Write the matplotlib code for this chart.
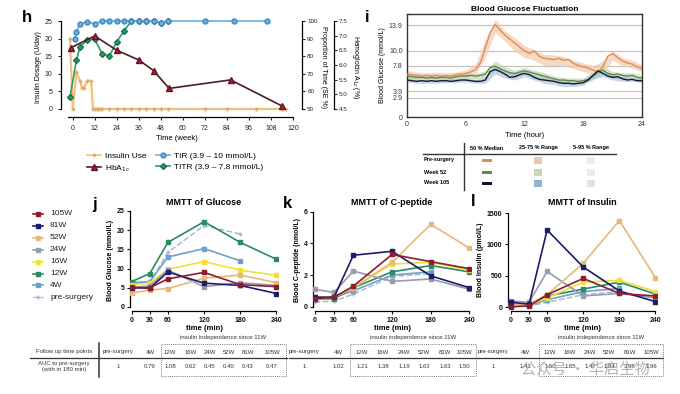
import matplotlib
matplotlib.use("Agg")
import matplotlib.pyplot as plt
import numpy as np
from matplotlib.lines import Line2D
from matplotlib.patches import Rectangle

plt.rcParams['font.family'] = ['Liberation Sans', 'DejaVu Sans']
plt.rcParams['font.size'] = 5
plt.rcParams['axes.linewidth'] = 0.9
plt.rcParams['xtick.major.width'] = 0.8
plt.rcParams['ytick.major.width'] = 0.8
plt.rcParams['xtick.major.size'] = 2.5
plt.rcParams['ytick.major.size'] = 2.5

nan = float('nan')

# ---- panel h data ----
ins_weeks = [-1.5, 0, 2, 4, 5, 6, 8, 10, 11, 12, 13, 14, 15, 16, 20, 24, 28, 32, 36, 40, 44, 48, 52, 72, 84, 100, 114, 116]
ins_dose = [20, 0, 10.5, 8, 6, 6, 8, 8, 0, 0, 0, 0, 0, 0, 0, 0, 0, 0, 0, 0, 0, 0, 0, 0, 0, 0, 0, 0]
tir_weeks = [1, 2, 4, 8, 12, 16, 20, 24, 28, 32, 36, 40, 44, 48, 52, 72, 88, 106]
tir_pct = [90, 94, 98.5, 99.6, 98.3, 100, 100, 100, 100, 100, 100, 100, 100, 98.8, 100, 100, 100, 100]
titr_weeks = [-1.5, 2, 4, 8, 12, 16, 20, 24, 28, 32, 36, 40, 44, 48, 52]
titr_pct = [56.6, 77.8, 85.4, 89.2, 89.7, 81.4, 80.2, 88.2, 94.5, 100, 100, 100, 100, 98.8, 100]
hba_weeks = [-1, 12, 24, 36, 44, 52.5, 86, 114]
hba_pct = [6.59, 6.99, 6.50, 6.17, 5.81, 5.20, 5.49, 4.60]

# ---- panel i data (CGM profiles) ----
hours = np.arange(0, 24.5, 0.5)
pre_med = [6.5, 6.4, 6.3, 6.2, 6.3, 6.2, 6.3, 6.2, 6.3, 6.2, 6.4, 6.5, 6.6, 6.8, 7.2, 8.2, 10.5,
           12.8, 14.0, 13.2, 12.4, 11.8, 11.2, 10.6, 10.0, 9.6, 10.0, 9.2, 8.9, 8.8, 8.7, 8.9, 8.6,
           8.7, 8.1, 7.8, 7.6, 7.4, 7.1, 6.8, 7.6, 9.2, 9.6, 9.0, 8.5, 8.2, 8.0, 7.6, 7.3]
w52_med = [6.2, 6.1, 6.0, 6.0, 5.9, 6.0, 5.9, 6.0, 6.0, 5.9, 6.1, 6.2, 6.2, 6.3, 6.2, 6.3, 6.5,
           7.5, 7.7, 7.3, 7.0, 6.7, 6.6, 6.8, 7.0, 6.8, 6.6, 6.4, 6.2, 6.0, 5.8, 5.6, 5.6,
           5.5, 5.5, 5.4, 5.5, 5.7, 6.2, 6.8, 7.1, 6.6, 6.4, 6.5, 6.3, 6.2, 6.3, 6.0, 5.9]
w105_med = [5.6, 5.5, 5.4, 5.5, 5.4, 5.5, 5.4, 5.5, 5.5, 5.4, 5.5, 5.6, 5.6, 5.5, 5.4, 5.4, 5.6,
            6.9, 7.2, 6.9, 6.5, 6.0, 6.1, 6.4, 6.6, 6.4, 6.0, 5.7, 5.6, 5.5, 5.4, 5.2, 5.1,
            5.1, 5.0, 5.1, 5.2, 5.6, 6.3, 7.0, 6.6, 6.2, 6.0, 6.1, 5.8, 5.6, 5.7, 5.5, 5.5]
band_hours = np.arange(0, 25, 1)
pre_lo = [5.9, 5.8, 5.8, 5.8, 5.9, 6.0, 6.1, 6.5, 9.0, 12.8, 11.5, 10.0, 9.0, 8.6, 7.8, 7.8, 7.8,
          7.3, 6.9, 6.4, 6.6, 8.6, 7.8, 7.4, 6.8]
pre_hi = [7.0, 6.8, 6.7, 6.8, 6.7, 6.8, 7.1, 8.0, 11.8, 14.8, 13.0, 12.0, 10.8, 10.2, 9.5, 9.4, 9.2,
          8.6, 8.2, 7.7, 8.5, 10.0, 9.0, 8.6, 7.9]
w52_half = [0.4, 0.4, 0.35, 0.35, 0.35, 0.4, 0.4, 0.4, 0.5, 0.8, 0.6, 0.5, 0.5, 0.5, 0.5, 0.4, 0.4,
            0.4, 0.4, 0.6, 0.6, 0.5, 0.4, 0.4, 0.4]
w105_half = [0.3, 0.3, 0.3, 0.3, 0.3, 0.3, 0.3, 0.3, 0.5, 0.7, 0.6, 0.5, 0.5, 0.4, 0.5, 0.5, 0.5,
             0.4, 0.4, 0.5, 0.5, 0.4, 0.4, 0.3, 0.3]
bg_levels = [2.9, 3.9, 7.8, 10.0, 13.9]

# ---- panels j, k, l data (MMTT) ----
mmtt_min = [0, 30, 60, 120, 180, 240]
groups = ['pre-surgery', '4W', '12W', '16W', '24W', '52W', '81W', '105W']
glucose = {
    'pre-surgery': [6.0, 6.4, 14.2, 21.2, 19.0, nan],
    '4W': [6.3, 6.6, 13.0, 15.2, 12.0, nan],
    '12W': [6.6, 8.7, 16.8, 22.2, 16.8, 12.4],
    '16W': [5.8, 6.2, 9.8, 11.8, 9.6, 8.2],
    '24W': [5.0, 5.5, 9.6, 5.3, 6.3, 5.6],
    '52W': [3.6, 4.4, 4.8, 7.5, 8.3, 6.3],
    '81W': [5.0, 4.9, 9.1, 6.2, 5.6, 3.5],
    '105W': [5.1, 5.0, 7.3, 9.0, 5.8, 5.3],
}
cpeptide = {
    'pre-surgery': [0.3, 0.35, 0.8, 1.9, 2.1, nan],
    '4W': [0.6, 0.6, 1.0, 2.0, 2.2, nan],
    '12W': [0.5, 0.5, 1.2, 2.2, 2.6, 2.2],
    '16W': [0.6, 0.6, 1.2, 2.7, 2.8, 2.3],
    '24W': [1.1, 0.9, 2.25, 1.6, 1.75, 1.1],
    '52W': [0.6, 0.6, 1.2, 2.8, 5.2, 3.7],
    '81W': [0.6, 0.6, 3.25, 3.5, 1.95, 1.2],
    '105W': [0.5, 0.6, 1.3, 3.3, 2.85, 2.4],
}
insulin = {
    'pre-surgery': [10, 20, 80, 200, 250, nan],
    '4W': [20, 30, 120, 250, 300, nan],
    '12W': [30, 30, 180, 290, 400, 210],
    '16W': [30, 40, 150, 400, 430, 250],
    '24W': [100, 80, 570, 180, 220, 150],
    '52W': [50, 50, 200, 700, 1380, 470],
    '81W': [80, 50, 1230, 640, 260, 90],
    '105W': [10, 20, 200, 460, 220, 180],
}
group_colors = {
    'pre-surgery': '#a9b6da', '4W': '#6aa2cc', '12W': '#2a8a62', '16W': '#f0e03a',
    '24W': '#9a9aac', '52W': '#e8b878', '81W': '#1c1c6b', '105W': '#8b1e2e',
}

table_cols = ['pre-surgery', '4W', '12W', '16W', '24W', '52W', '81W', '105W']
auc_glucose = ['1', '0.79', '1.08', '0.62', '0.45', '0.40', '0.43', '0.47']
auc_cpep = ['1', '1.02', '1.21', '1.38', '1.19', '1.63', '1.63', '1.50']
auc_ins = ['1', '1.43', '1.50', '1.65', '1.47', '1.84', '3.98', '1.96']

W, H = 680, 394
fig = plt.figure(figsize=(6.8, 3.94), dpi=100)


def px_axes(l, t, r, b):
    return fig.add_axes([l / W, 1 - b / H, (r - l) / W, (b - t) / H])


def fx(x):
    return x / W


def fy(y):
    return 1 - y / H


def ftext(x, y, s, **kw):
    fig.text(fx(x), fy(y), s, **kw)


def fline(x0, x1, y0, y1, **kw):
    fig.add_artist(Line2D([fx(x0), fx(x1)], [fy(y0), fy(y1)], transform=fig.transFigure, **kw))


# ================= panel h =================
ax = px_axes(61, 17.5, 293, 117)
ax.set_xlim(-6.4, 120)
ax.set_ylim(-2.3, 26)
for s in ['top', 'right']:
    ax.spines[s].set_visible(False)
ax.spines['left'].set_bounds(0, 25)
ax.spines['bottom'].set_bounds(-2.5, 120)
ax.set_xticks(range(0, 121, 12))
ax.set_yticks(range(0, 26, 5))
ax.tick_params(labelsize=5, colors='#222222')
ax.set_xlabel('Time (week)', fontsize=5.5, labelpad=2)
ax.set_ylabel('Insulin Dosage (U/day)', fontsize=5, labelpad=2)
ax.plot(ins_weeks, ins_dose, color='#f3c27a', lw=1.6, marker='+', ms=3, mec='#e0a860', zorder=3)

ax2 = ax.twinx()
ax2.set_ylim(45.4, 102)
for s in ['top', 'left', 'bottom']:
    ax2.spines[s].set_visible(False)
ax2.spines['right'].set_position(('axes', 1.04))
ax2.spines['right'].set_bounds(50, 100)
ax2.set_yticks(range(50, 101, 10))
ax2.tick_params(labelsize=4.5, colors='#222222', pad=1)
ax2.plot(titr_weeks, titr_pct, color='#2e9a6a', lw=1.2, marker='D', ms=3, mfc='#2e9a6a', mec='#1d6e4a', zorder=4)
ax2.plot(tir_weeks, tir_pct, color='#6cb0e2', lw=1.2, marker='o', ms=3.5, mfc='#6cb0e2', mec='#3f86c0', zorder=5)

ax3 = ax.twinx()
ax3.set_ylim(4.224, 7.62)
for s in ['top', 'left', 'bottom']:
    ax3.spines[s].set_visible(False)
ax3.spines['right'].set_position(('axes', 1.175))
ax3.spines['right'].set_bounds(4.5, 7.5)
ax3.set_yticks(np.arange(4.5, 7.6, 0.5))
ax3.tick_params(labelsize=4.5, colors='#222222', pad=1)
ax3.plot(hba_weeks, hba_pct, color='#4a1c24', lw=1.2, marker='^', ms=4, mfc='#a8223c', mec='#6a1020', zorder=6)

ftext(323, 67, 'Proportion of Time (SE %)', rotation=270, ha='center', va='center', fontsize=5)
ftext(355, 67, 'Hemoglobin A$_{1c}$ (%)', rotation=270, ha='center', va='center', fontsize=5)

h_handles = [
    Line2D([], [], color='#f3c27a', lw=1.2, marker='+', ms=3, mec='#e0a860'),
    Line2D([], [], color='#4a1c24', lw=1.2, marker='^', ms=4, mfc='#a8223c', mec='#6a1020'),
    Line2D([], [], color='#6cb0e2', lw=1.2, marker='o', ms=3.5, mfc='#6cb0e2', mec='#3f86c0'),
    Line2D([], [], color='#2e9a6a', lw=1.2, marker='D', ms=3, mfc='#2e9a6a', mec='#1d6e4a'),
]
h_labels = ['Insulin Use', 'HbA$_{1c}$', 'TIR (3.9 – 10 mmol/L)', 'TITR (3.9 – 7.8 mmol/L)']
fig.legend(h_handles, h_labels, ncol=2, loc='center', bbox_to_anchor=(fx(175), fy(163)),
           frameon=False, fontsize=6, handlelength=1.6, columnspacing=1.2, labelspacing=0.35,
           handletextpad=0.5)

ftext(22, 17, 'h', fontsize=12, fontweight='bold', va='center')

# ================= panel i =================
axi = px_axes(407, 14, 642, 117)
axi.set_xlim(0, 24)
axi.set_ylim(0, 15.6)
for s in axi.spines.values():
    s.set_color('#333333')
    s.set_linewidth(1.0)
for lv in bg_levels:
    axi.axhline(lv, color='#c9c2ba', lw=0.9, zorder=1)
axi.set_xticks([0, 6, 12, 18, 24])
axi.set_yticks([0] + bg_levels)
axi.set_yticklabels(['0', '2.9', '3.9', '7.8', '10.0', '13.9'])
axi.tick_params(labelsize=5, colors='#333333', length=0, pad=3)
axi.set_xlabel('Time (hour)', fontsize=5.5, labelpad=3)
axi.set_ylabel('Blood Glucose (mmol/L)', fontsize=5, labelpad=2)
axi.set_title('Blood Glucose Fluctuation', fontsize=6, fontweight='bold', pad=2)

axi.fill_between(band_hours, pre_lo, pre_hi, color='#f2c9a8', alpha=0.7, lw=0, zorder=2)
axi.fill_between(band_hours, np.array(w52_med[::2]) - np.array(w52_half), np.array(w52_med[::2]) + np.array(w52_half),
                 color='#c3d6b2', alpha=0.7, lw=0, zorder=2)
axi.fill_between(band_hours, np.array(w105_med[::2]) - np.array(w105_half), np.array(w105_med[::2]) + np.array(w105_half),
                 color='#9fbcd9', alpha=0.6, lw=0, zorder=2)
axi.plot(hours, pre_med, color='#e38a5a', lw=1.0, zorder=3)
axi.plot(hours, w52_med, color='#5e8c4a', lw=1.0, zorder=4)
axi.plot(hours, w105_med, color='#141830', lw=1.0, zorder=5)

ftext(365, 17, 'i', fontsize=12, fontweight='bold', va='center')

# legend table of panel i
fline(423, 616, 154, 154, color='#333333', lw=1.0)
fline(464, 464, 143, 190, color='#333333', lw=1.0)
i_cols = [(487, '50 % Median'), (538, '25-75 % Range'), (591, '5-95 % Range')]
for cx, lab in i_cols:
    ftext(cx, 148, lab, fontsize=4, fontweight='bold', ha='center', va='center')
i_rows = [(160, 'Pre-surgery', ['#d4905a', '#e9c8ab', '#f1ece8']),
          (172, 'Week 52', ['#5e8c4a', '#c8d6b5', '#ececea']),
          (183, 'Week 105', ['#111428', '#93b2d2', '#d8e6f0'])]
for ry, lab, cols in i_rows:
    ftext(424, ry, lab, fontsize=4, fontweight='bold', ha='left', va='center')
    fig.add_artist(Rectangle((fx(482), fy(ry + 1.5)), 10 / W, 3 / H, transform=fig.transFigure,
                             color=cols[0], lw=0))
    fig.add_artist(Rectangle((fx(534), fy(ry + 3.5)), 8 / W, 7 / H, transform=fig.transFigure,
                             color=cols[1], lw=0))
    fig.add_artist(Rectangle((fx(587), fy(ry + 3.5)), 8 / W, 7 / H, transform=fig.transFigure,
                             color=cols[2], lw=0))

# ================= panels j, k, l =================
def mmtt_panel(box, data, xlim, ylim, ybound, yticks, ylabel, title):
    a = px_axes(*box)
    a.set_xlim(*xlim)
    a.set_ylim(*ylim)
    for s in ['top', 'right']:
        a.spines[s].set_visible(False)
    a.spines['left'].set_bounds(0, ybound)
    a.spines['bottom'].set_bounds(0, 240)
    a.set_xticks(mmtt_min)
    a.set_yticks(yticks)
    a.tick_params(labelsize=5, colors='#111111', pad=1.5)
    for lab in a.get_xticklabels() + a.get_yticklabels():
        lab.set_fontweight('bold')
    a.set_xlabel('time (min)', fontsize=5.5, fontweight='bold', labelpad=1)
    a.set_ylabel(ylabel, fontsize=5, fontweight='bold', labelpad=2)
    a.set_title(title, fontsize=6.5, fontweight='bold', pad=3)
    for g in groups:
        if g == 'pre-surgery':
            a.plot(mmtt_min, data[g], color=group_colors[g], lw=1.1, ls='--', marker='+', ms=3, zorder=2)
        else:
            a.plot(mmtt_min, data[g], color=group_colors[g], lw=1.2, marker='s', ms=3.2,
                   mec=group_colors[g], zorder=3)
    return a


mmtt_panel((130, 209, 278, 311), glucose, (-2.8, 242.5), (-1.05, 25.5), 25, range(0, 26, 5),
           'Blood Glucose (mmol/L)', 'MMTT of Glucose')
mmtt_panel((313, 209, 471, 311), cpeptide, (-2.6, 242.5), (-0.27, 6.17), 6, [0, 2, 4, 6],
           'Blood C-peptide (nmol/L)', 'MMTT of C-peptide')
mmtt_panel((508, 209, 657, 311), insulin, (-5, 242.5), (-59, 1564), 1500, [0, 500, 1000, 1500],
           'Blood Insulin (pmol/L)', 'MMTT of Insulin')

ftext(92, 204, 'j', fontsize=12, fontweight='bold', va='center')
ftext(283, 203, 'k', fontsize=12, fontweight='bold', va='center')
ftext(471, 202, 'l', fontsize=12, fontweight='bold', va='center')

# left legend for j/k/l
leg_order = ['105W', '81W', '52W', '24W', '16W', '12W', '4W', 'pre-surgery']
for i, g in enumerate(leg_order):
    yy = 214 + i * 11.9
    if g == 'pre-surgery':
        fline(33, 43, yy, yy, color=group_colors[g], lw=1.0, ls='--')
        fig.add_artist(Line2D([fx(38)], [fy(yy)], transform=fig.transFigure, marker='+', ms=3,
                              color=group_colors[g]))
    else:
        fline(33, 43, yy, yy, color=group_colors[g], lw=1.2)
        fig.add_artist(Line2D([fx(38)], [fy(yy)], transform=fig.transFigure, marker='s', ms=3.2,
                              color=group_colors[g]))
    ftext(50, yy, g, fontsize=6, va='center', ha='left', color='#222222')

# AUC tables
def auc_table(col_x, vals, box_x0, box_x1, line_x0, line_x1, head_x=None):
    fline(line_x0, line_x1, 358, 358, color='#333333', lw=0.9)
    for cx, lab, v in zip(col_x, table_cols, vals):
        ftext(cx, 352, lab, fontsize=4.3, ha='center', va='center', color='#333333')
        ftext(cx, 367, v, fontsize=4.3, ha='center', va='center', color='#333333')
    fig.add_artist(Rectangle((fx(box_x0), fy(376)), (box_x1 - box_x0) / W, 32 / H,
                             transform=fig.transFigure, fill=False, ls=(0, (1, 1.2)), lw=0.7,
                             ec='#777777'))
    ftext((box_x0 + box_x1) / 2, 337, 'insulin independence since 11W', fontsize=4.3,
          ha='center', va='center', color='#333333')


ftext(64, 352, 'Follow up time points', fontsize=4.3, ha='center', va='center', color='#333333')
ftext(64, 363, 'AUC to pre-surgery', fontsize=4.3, ha='center', va='center', color='#333333')
ftext(64, 370, '(with in 180 min)', fontsize=4.3, ha='center', va='center', color='#333333')
fline(99, 99, 343, 377, color='#333333', lw=1.1)

auc_table([118, 150, 170, 190.5, 210, 229, 248, 272], auc_glucose, 161, 286, 30, 287)
auc_table([304, 338, 362, 383, 404, 424, 445, 464], auc_cpep, 350, 476, 289, 477)
auc_table([493, 525, 550, 570, 590, 609, 630, 651], auc_ins, 539, 663, 478, 663)

# watermark
ftext(585, 369, '公众号 · 华启生物', fontsize=11, ha='center', va='center', color='#9a9a9a',
      alpha=0.75, family=['Noto Sans CJK SC', 'DejaVu Sans'])

fig.savefig('out.png', dpi=100)
